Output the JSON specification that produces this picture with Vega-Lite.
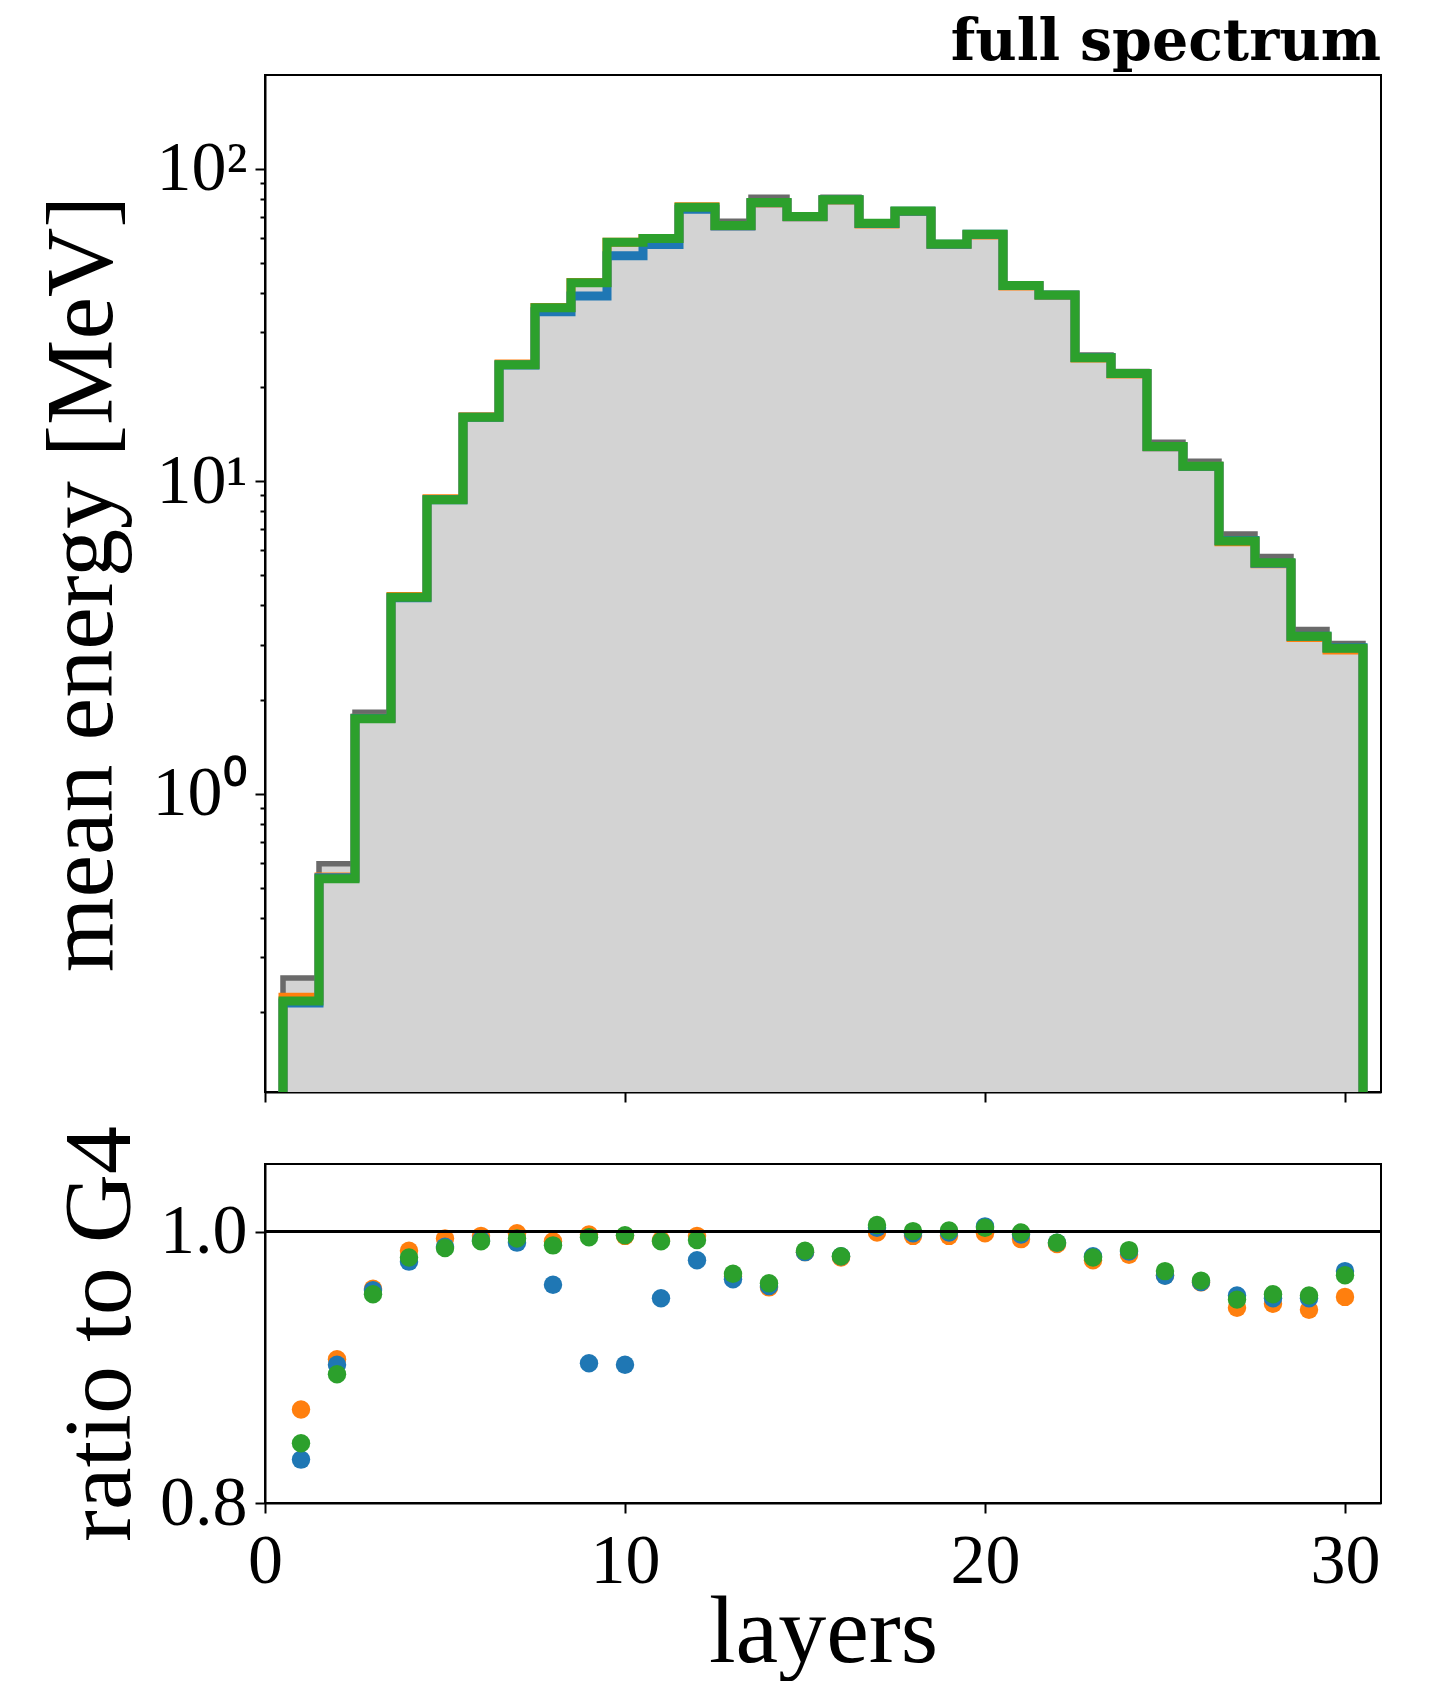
{
  "$schema": "https://vega.github.io/schema/vega-lite/v6.json",
  "padding": {"left": 33, "top": 13, "right": 0, "bottom": 0},
  "background": "white",
  "spacing": 20,
  "config": {
    "font": "Liberation Serif",
    "view": {"stroke": "black", "strokeWidth": 2},
    "axis": {
      "grid": false, "domainColor": "black", "domainWidth": 2,
      "tickColor": "black", "tickWidth": 2, "tickSize": 10,
      "labelFont": "Liberation Serif", "labelFontSize": 70, "labelColor": "black",
      "titleFont": "Liberation Serif", "titleFontSize": 96, "titleFontWeight": "normal", "titleColor": "black",
      "labelPadding": 8, "labelOverlap": false
    }
  },
  "datasets": {
    "hist": [
      {"k": 0, "edge": 0.5, "G4": 0.001, "o": 0.001, "b": 0.001, "g": 0.001},
      {"k": 1, "edge": 0.5, "G4": 0.257, "o": 0.223, "b": 0.214, "g": 0.217},
      {"k": 2, "edge": 1.5, "G4": 0.597, "o": 0.541, "b": 0.538, "g": 0.534},
      {"k": 3, "edge": 2.5, "G4": 1.82, "o": 1.744, "b": 1.742, "g": 1.736},
      {"k": 4, "edge": 3.5, "G4": 4.33, "o": 4.269, "b": 4.235, "g": 4.248},
      {"k": 5, "edge": 4.5, "G4": 8.82, "o": 8.78, "b": 8.72, "g": 8.71},
      {"k": 6, "edge": 5.5, "G4": 16.1, "o": 16.05, "b": 16.0, "g": 15.99},
      {"k": 7, "edge": 6.5, "G4": 23.7, "o": 23.68, "b": 23.51, "g": 23.58},
      {"k": 8, "edge": 7.5, "G4": 36.2, "o": 35.95, "b": 34.79, "g": 35.84},
      {"k": 9, "edge": 8.5, "G4": 43.3, "o": 43.21, "b": 39.1, "g": 43.13},
      {"k": 10, "edge": 9.5, "G4": 58.3, "o": 58.13, "b": 52.59, "g": 58.15},
      {"k": 11, "edge": 10.5, "G4": 60.1, "o": 59.74, "b": 57.16, "g": 59.68},
      {"k": 12, "edge": 11.5, "G4": 75.7, "o": 75.47, "b": 74.11, "g": 75.25},
      {"k": 13, "edge": 12.5, "G4": 67.8, "o": 65.56, "b": 65.43, "g": 65.7},
      {"k": 14, "edge": 13.5, "G4": 80.9, "o": 77.58, "b": 77.66, "g": 77.83},
      {"k": 15, "edge": 14.5, "G4": 71.2, "o": 70.13, "b": 70.13, "g": 70.2},
      {"k": 16, "edge": 15.5, "G4": 80.9, "o": 79.36, "b": 79.44, "g": 79.44},
      {"k": 17, "edge": 16.5, "G4": 66.5, "o": 66.47, "b": 66.7, "g": 66.83},
      {"k": 18, "edge": 17.5, "G4": 73.1, "o": 72.88, "b": 73.03, "g": 73.14},
      {"k": 19, "edge": 18.5, "G4": 57.3, "o": 57.13, "b": 57.27, "g": 57.36},
      {"k": 20, "edge": 19.5, "G4": 61.4, "o": 61.34, "b": 61.65, "g": 61.58},
      {"k": 21, "edge": 20.5, "G4": 42.3, "o": 42.07, "b": 42.22, "g": 42.28},
      {"k": 22, "edge": 21.5, "G4": 39.7, "o": 39.34, "b": 39.38, "g": 39.38},
      {"k": 23, "edge": 22.5, "G4": 25.3, "o": 24.77, "b": 24.84, "g": 24.82},
      {"k": 24, "edge": 23.5, "G4": 22.4, "o": 22.02, "b": 22.08, "g": 22.1},
      {"k": 25, "edge": 24.5, "G4": 13.3, "o": 12.87, "b": 12.87, "g": 12.91},
      {"k": 26, "edge": 25.5, "G4": 11.58, "o": 11.15, "b": 11.15, "g": 11.16},
      {"k": 27, "edge": 26.5, "G4": 6.77, "o": 6.39, "b": 6.45, "g": 6.43},
      {"k": 28, "edge": 27.5, "G4": 5.74, "o": 5.44, "b": 5.46, "g": 5.48},
      {"k": 29, "edge": 28.5, "G4": 3.35, "o": 3.16, "b": 3.19, "g": 3.19},
      {"k": 30, "edge": 29.5, "G4": 3.02, "o": 2.88, "b": 2.93, "g": 2.92},
      {"k": 31, "edge": 30.5, "G4": 3.02, "o": 2.88, "b": 2.93, "g": 2.92},
      {"k": 32, "edge": 30.5, "G4": 0.001, "o": 0.001, "b": 0.001, "g": 0.001}
    ],
    "ratio": [
      {"layer": 1, "o": 0.869, "b": 0.832, "g": 0.844},
      {"layer": 2, "o": 0.906, "b": 0.902, "g": 0.895},
      {"layer": 3, "o": 0.958, "b": 0.957, "g": 0.954},
      {"layer": 4, "o": 0.986, "b": 0.978, "g": 0.981},
      {"layer": 5, "o": 0.995, "b": 0.989, "g": 0.988},
      {"layer": 6, "o": 0.997, "b": 0.994, "g": 0.993},
      {"layer": 7, "o": 0.999, "b": 0.992, "g": 0.995},
      {"layer": 8, "o": 0.993, "b": 0.961, "g": 0.99},
      {"layer": 9, "o": 0.998, "b": 0.903, "g": 0.996},
      {"layer": 10, "o": 0.997, "b": 0.902, "g": 0.9975},
      {"layer": 11, "o": 0.994, "b": 0.951, "g": 0.993},
      {"layer": 12, "o": 0.997, "b": 0.979, "g": 0.994},
      {"layer": 13, "o": 0.967, "b": 0.965, "g": 0.969},
      {"layer": 14, "o": 0.959, "b": 0.96, "g": 0.962},
      {"layer": 15, "o": 0.985, "b": 0.985, "g": 0.986},
      {"layer": 16, "o": 0.981, "b": 0.982, "g": 0.982},
      {"layer": 17, "o": 0.9995, "b": 1.003, "g": 1.005},
      {"layer": 18, "o": 0.997, "b": 0.999, "g": 1.0005},
      {"layer": 19, "o": 0.997, "b": 0.9995, "g": 1.001},
      {"layer": 20, "o": 0.999, "b": 1.004, "g": 1.003},
      {"layer": 21, "o": 0.9946, "b": 0.998, "g": 0.9995},
      {"layer": 22, "o": 0.991, "b": 0.992, "g": 0.992},
      {"layer": 23, "o": 0.979, "b": 0.982, "g": 0.981},
      {"layer": 24, "o": 0.983, "b": 0.9855, "g": 0.9865},
      {"layer": 25, "o": 0.968, "b": 0.9676, "g": 0.971},
      {"layer": 26, "o": 0.9627, "b": 0.963, "g": 0.964},
      {"layer": 27, "o": 0.944, "b": 0.953, "g": 0.95},
      {"layer": 28, "o": 0.947, "b": 0.951, "g": 0.954},
      {"layer": 29, "o": 0.9425, "b": 0.951, "g": 0.953},
      {"layer": 30, "o": 0.952, "b": 0.971, "g": 0.968}
    ]
  },
  "vconcat": [
    {
      "width": 1116,
      "height": 1017,
      "title": {"text": "full spectrum", "anchor": "end", "font": "DejaVu Serif", "fontWeight": "bold", "fontSize": 57, "color": "black", "baseline": "alphabetic", "offset": -42},
      "data": {"name": "hist"},
      "encoding": {
        "x": {"field": "edge", "type": "quantitative", "scale": {"domain": [0, 31], "nice": false, "zero": false}, "axis": {"values": [0, 10, 20, 30], "labels": false, "title": null}}
      },
      "layer": [
        {
          "transform": [{"filter": "datum.k >= 1 && datum.k <= 31"}],
          "mark": {"type": "area", "interpolate": "step-after", "color": "#d3d3d3", "opacity": 1, "clip": true},
          "encoding": {
            "y": {"field": "G4", "type": "quantitative", "title": "mean energy [MeV]",
              "scale": {"type": "log", "domain": [0.111, 199.2], "nice": false},
              "axis": {
                "values": [0.2, 0.3, 0.4, 0.5, 0.6, 0.7, 0.8, 0.9, 1, 2, 3, 4, 5, 6, 7, 8, 9, 10, 20, 30, 40, 50, 60, 70, 80, 90, 100],
                "labelExpr": "datum.value == 1 ? '10⁰' : datum.value == 10 ? '10¹' : datum.value == 100 ? '10²' : ''",
                "tickSize": {"condition": {"test": "datum.value == 1 || datum.value == 10 || datum.value == 100", "value": 10}, "value": 5},
                "titlePadding": 21
              }},
            "y2": {"datum": 0.001}
          }
        },
        {"mark": {"type": "line", "interpolate": "step-after", "color": "#6a6a6a", "strokeWidth": 5.5, "strokeJoin": "miter", "clip": true},
         "encoding": {"y": {"field": "G4", "type": "quantitative", "title": "mean energy [MeV]"}, "order": {"field": "k", "type": "quantitative"}}},
        {"mark": {"type": "line", "interpolate": "step-after", "color": "#ff7f0e", "strokeWidth": 9, "strokeJoin": "miter", "clip": true},
         "encoding": {"y": {"field": "o", "type": "quantitative", "title": "mean energy [MeV]"}, "order": {"field": "k", "type": "quantitative"}}},
        {"mark": {"type": "line", "interpolate": "step-after", "color": "#1f77b4", "strokeWidth": 9, "strokeJoin": "miter", "clip": true},
         "encoding": {"y": {"field": "b", "type": "quantitative", "title": "mean energy [MeV]"}, "order": {"field": "k", "type": "quantitative"}}},
        {"mark": {"type": "line", "interpolate": "step-after", "color": "#2ca02c", "strokeWidth": 9, "strokeJoin": "miter", "clip": true},
         "encoding": {"y": {"field": "g", "type": "quantitative", "title": "mean energy [MeV]"}, "order": {"field": "k", "type": "quantitative"}}}
      ]
    },
    {
      "width": 1116,
      "height": 339,
      "data": {"name": "ratio"},
      "layer": [
        {"mark": {"type": "circle", "color": "#ff7f0e", "size": 340, "opacity": 1},
         "encoding": {
           "x": {"field": "layer", "type": "quantitative", "scale": {"domain": [0, 31], "nice": false, "zero": false},
             "axis": {"values": [0, 10, 20, 30], "title": "layers", "labelFlush": false, "labelPadding": 14, "titlePadding": -11}},
           "y": {"field": "o", "type": "quantitative", "title": "ratio to G4",
             "scale": {"domain": [0.8, 1.05], "nice": false, "zero": false},
             "axis": {"values": [0.8, 1.0], "format": ".1f", "titlePadding": 10}}
         }},
        {"mark": {"type": "circle", "color": "#1f77b4", "size": 340, "opacity": 1},
         "encoding": {
           "x": {"field": "layer", "type": "quantitative", "title": "layers"},
           "y": {"field": "b", "type": "quantitative", "title": "ratio to G4"}
         }},
        {"mark": {"type": "circle", "color": "#2ca02c", "size": 340, "opacity": 1},
         "encoding": {
           "x": {"field": "layer", "type": "quantitative", "title": "layers"},
           "y": {"field": "g", "type": "quantitative", "title": "ratio to G4"}
         }},
        {"mark": {"type": "rule", "color": "black", "strokeWidth": 2},
         "encoding": {"y": {"datum": 1}}}
      ]
    }
  ]
}
